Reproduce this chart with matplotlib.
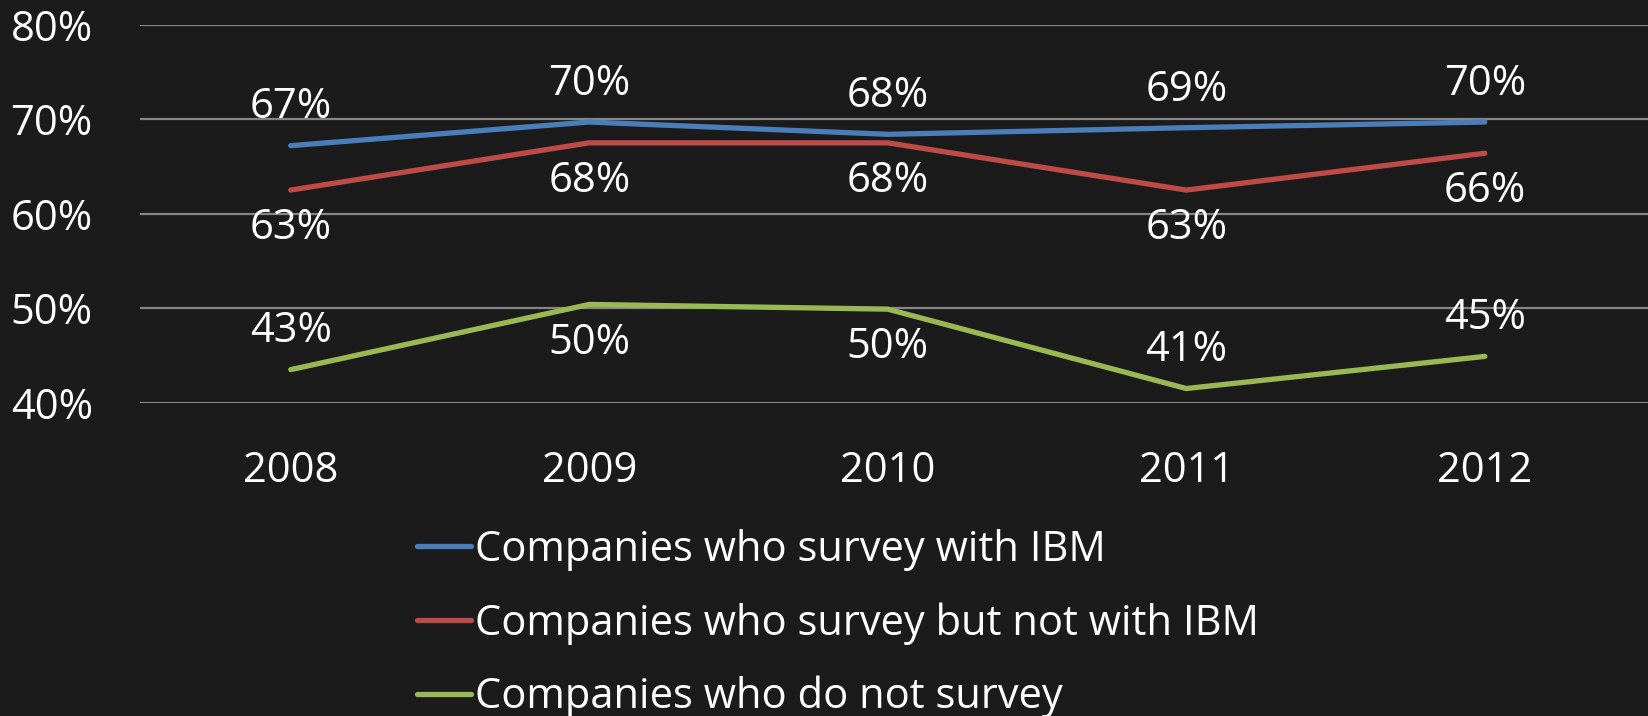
import matplotlib
matplotlib.use("Agg")
import matplotlib.pyplot as plt

years = ["2008", "2009", "2010", "2011", "2012"]
series_names = ["Companies who survey with IBM",
                "Companies who survey but not with IBM",
                "Companies who do not survey"]
ibm = [67.2, 69.7, 68.4, 69.1, 69.7]
not_ibm = [62.5, 67.5, 67.5, 62.5, 66.4]
no_survey = [43.5, 50.4, 49.9, 41.5, 44.9]
ibm_labels = ["67%", "70%", "68%", "69%", "70%"]
not_ibm_labels = ["63%", "68%", "68%", "63%", "66%"]
no_survey_labels = ["43%", "50%", "50%", "41%", "45%"]
yticks = [40, 50, 60, 70, 80]
ytick_labels = ["40%", "50%", "60%", "70%", "80%"]

BG = "#1b1b1b"
colors = ["#4a7ebb", "#be4b48", "#98b954"]
plt.rcParams['font.family'] = ['Open Sans', 'DejaVu Sans']
FS = 30

W, H = 1649, 716
fig = plt.figure(figsize=(W / 100, H / 100), dpi=100, facecolor=BG)
ax = fig.add_axes([140 / W, 1 - 402.7 / H, (W - 140) / W, (402.7 - 24.7) / H])
ax.set_facecolor(BG)

x = list(range(len(years)))
data = [ibm, not_ibm, no_survey]
labels = [ibm_labels, not_ibm_labels, no_survey_labels]
# label placement: +1 above, -1 below
placement = [[1, 1, 1, 1, 1],
             [-1, -1, -1, -1, -1],
             [1, -1, -1, 1, 1]]

handles = []
for vals, lab, pl, c, name in zip(data, labels, placement, colors, series_names):
    ln, = ax.plot(x, vals, color=c, lw=3.8, solid_capstyle='round',
                  solid_joinstyle='miter', zorder=3, label=name)
    handles.append(ln)
    for xi, v, t, p in zip(x, vals, lab, pl):
        ax.annotate(t, (xi, v), xytext=(0, 27.5 * p), textcoords='offset points',
                    ha='center', va='center', color='white', fontsize=FS, zorder=4)

ax.set_ylim(40, 80)
ax.set_xlim(-0.505, 4.55)
ax.set_yticks(yticks)
ax.set_yticklabels(ytick_labels)
ax.set_xticks(x)
ax.set_xticklabels(years)
ax.grid(axis='y', color='#868686', lw=1.6, zorder=1)
ax.grid(axis='x', visible=False)
for s in ax.spines.values():
    s.set_visible(False)
ax.tick_params(axis='both', length=0, colors='white', labelsize=FS)
ax.tick_params(axis='y', pad=34)
ax.tick_params(axis='x', pad=34)
for t in ax.get_yticklabels():
    t.set_horizontalalignment('right')

leg = fig.legend(handles=handles, loc='upper left',
                 bbox_to_anchor=(417 / W, 1 - 529 / H),
                 frameon=False, fontsize=FS, labelcolor='white',
                 handlelength=1.3, handletextpad=0.1, labelspacing=0.75,
                 borderaxespad=0, borderpad=0)

fig.savefig("out.png", dpi=100, facecolor=BG)
